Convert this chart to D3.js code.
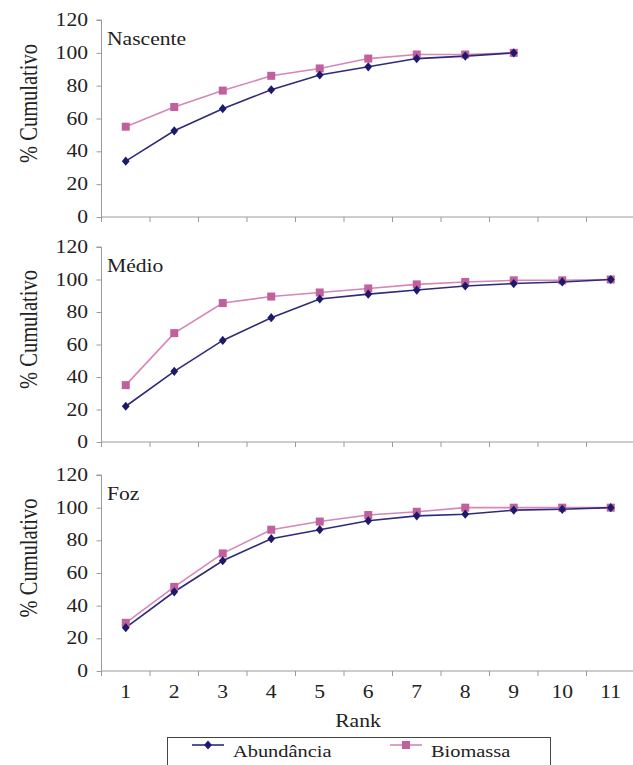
<!DOCTYPE html>
<html>
<head>
<meta charset="utf-8">
<script src="https://cdn.jsdelivr.net/npm/d3@7/dist/d3.min.js"></script>
<style>
  html, body { margin: 0; padding: 0; background: #fff; }
  svg { display: block; }
</style>
</head>
<body>
<svg id="chart" width="633" height="765"></svg>
<script>
// ---------------- data ----------------
const ranks = [1, 2, 3, 4, 5, 6, 7, 8, 9, 10, 11];
const yTickValues = [0, 20, 40, 60, 80, 100, 120];
const panelNames = ["Nascente", "Médio", "Foz"];
const seriesNames = ["Abundância", "Biomassa"];

const nascenteAbundancia = [34, 52.5, 66, 77.5, 86.5, 91.5, 96.5, 98, 100];
const nascenteBiomassa   = [55, 67, 77, 86, 90.5, 96.5, 99, 99, 100];
const medioAbundancia    = [22, 43.5, 62.5, 76.5, 88, 91, 93.5, 96, 97.5, 98.5, 100];
const medioBiomassa      = [35, 67, 85.5, 89.5, 92, 94.5, 97, 98.5, 99.5, 99.5, 100];
const fozAbundancia      = [26.5, 48.5, 67.5, 81, 86.5, 92, 95, 96, 98.5, 99, 100];
const fozBiomassa        = [29.5, 51.5, 72, 86.5, 91.5, 95.5, 97.5, 100, 100, 100, 100];

// ---------------- layout ----------------
const FONT = "Liberation Serif";
const svg = d3.select("#chart");
const SX = 1.2;            // horizontal stretch of the original image
const xLeft = 101.5, xRight = 635;
const panelBands = [[217, 20], [442, 247], [671, 475]];
const colors = { abund: "#1d1a6c", abundLine: "#2f2b7a", bio: "#c2609d", bioLine: "#d487b8" };
const axisColor = "#9a9a9a";
const textColor = "#222";

const x = d3.scaleBand().domain(ranks).range([xLeft, xRight]).paddingInner(0).paddingOuter(0);
const cx = r => x(r) + x.bandwidth() / 2;

function stretchedText(g, tx, ty, str, size, anchor) {
  return g.append("text")
    .attr("transform", `translate(${tx},${ty}) scale(${SX},1)`)
    .attr("text-anchor", anchor || "start")
    .attr("font-family", FONT)
    .attr("font-size", size)
    .attr("fill", textColor)
    .text(str);
}

const diamond = "M0,-4.6L3.9,0L0,4.6L-3.9,0Z";

const panels = [
  { name: panelNames[0], a: nascenteAbundancia, b: nascenteBiomassa },
  { name: panelNames[1], a: medioAbundancia, b: medioBiomassa },
  { name: panelNames[2], a: fozAbundancia, b: fozBiomassa }
];

panels.forEach((p, i) => {
  const [yb, yt] = panelBands[i];
  const y = d3.scaleLinear().domain([0, 120]).range([yb, yt]);
  const g = svg.append("g");

  // y axis
  const yAxis = g.append("g").attr("transform", `translate(${xLeft},0)`)
    .call(d3.axisLeft(y).tickValues(yTickValues).tickSize(5).tickFormat(""));
  yAxis.selectAll("path, line").attr("stroke", axisColor);
  yAxis.select(".domain").attr("d", `M-5,${yt}H0V${yb}`);
  yTickValues.forEach(v => {
    stretchedText(g, 88, y(v) + 6, String(v), 18, "end");
  });

  // x axis (ticks at category boundaries)
  const boundaries = ranks.map(r => x(r)).concat([xRight]);
  g.append("line").attr("x1", xLeft).attr("x2", xRight).attr("y1", yb).attr("y2", yb)
    .attr("stroke", axisColor);
  g.selectAll(".xt").data(boundaries).join("line")
    .attr("x1", d => d).attr("x2", d => d).attr("y1", yb).attr("y2", yb + 5)
    .attr("stroke", axisColor);

  // y title
  g.append("text")
    .attr("transform", `translate(37,${(yb + yt) / 2 - 15}) scale(${SX},1) rotate(-90)`)
    .attr("text-anchor", "middle")
    .attr("font-family", FONT)
    .attr("font-size", 20.5)
    .attr("fill", textColor)
    .text("% Cumulativo");

  // panel label
  stretchedText(g, 107, yt + 25, p.name, 18, "start");

  const line = d3.line().x((d, k) => cx(ranks[k])).y(d => y(d));

  g.append("path").datum(p.b).attr("d", line).attr("fill", "none")
    .attr("stroke", colors.bioLine).attr("stroke-width", 1.6);
  g.append("path").datum(p.a).attr("d", line).attr("fill", "none")
    .attr("stroke", colors.abundLine).attr("stroke-width", 1.6);

  g.selectAll(".sq").data(p.b).join("rect")
    .attr("x", (d, k) => cx(ranks[k]) - 4).attr("y", d => y(d) - 4)
    .attr("width", 8).attr("height", 8).attr("fill", colors.bio);
  g.selectAll(".dm").data(p.a).join("path")
    .attr("d", diamond)
    .attr("transform", (d, k) => `translate(${cx(ranks[k])},${y(d)})`)
    .attr("fill", colors.abund);

  if (i === panels.length - 1) {
    ranks.forEach(r => stretchedText(g, cx(r), 698, String(r), 18, "middle"));
    stretchedText(g, 358, 727, "Rank", 18, "middle");
  }
});

// ---------------- legend ----------------
const lg = svg.append("g");
lg.append("rect").attr("x", 167.5).attr("y", 737.5).attr("width", 383).attr("height", 40)
  .attr("fill", "#fff").attr("stroke", "#444");
const legendItems = [
  { name: seriesNames[0], x0: 192, color: colors.abundLine, mark: colors.abund, type: "d" },
  { name: seriesNames[1], x0: 390, color: colors.bioLine, mark: colors.bio, type: "s" }
];
legendItems.forEach(it => {
  lg.append("line").attr("x1", it.x0).attr("x2", it.x0 + 32).attr("y1", 745).attr("y2", 745)
    .attr("stroke", it.color).attr("stroke-width", 1.6);
  if (it.type === "d") {
    lg.append("path").attr("d", diamond).attr("transform", `translate(${it.x0 + 16},745)`).attr("fill", it.mark);
  } else {
    lg.append("rect").attr("x", it.x0 + 12).attr("y", 741).attr("width", 8).attr("height", 8).attr("fill", it.mark);
  }
  stretchedText(lg, it.x0 + 41, 757, it.name, 17, "start");
});
</script>
</body>
</html>
